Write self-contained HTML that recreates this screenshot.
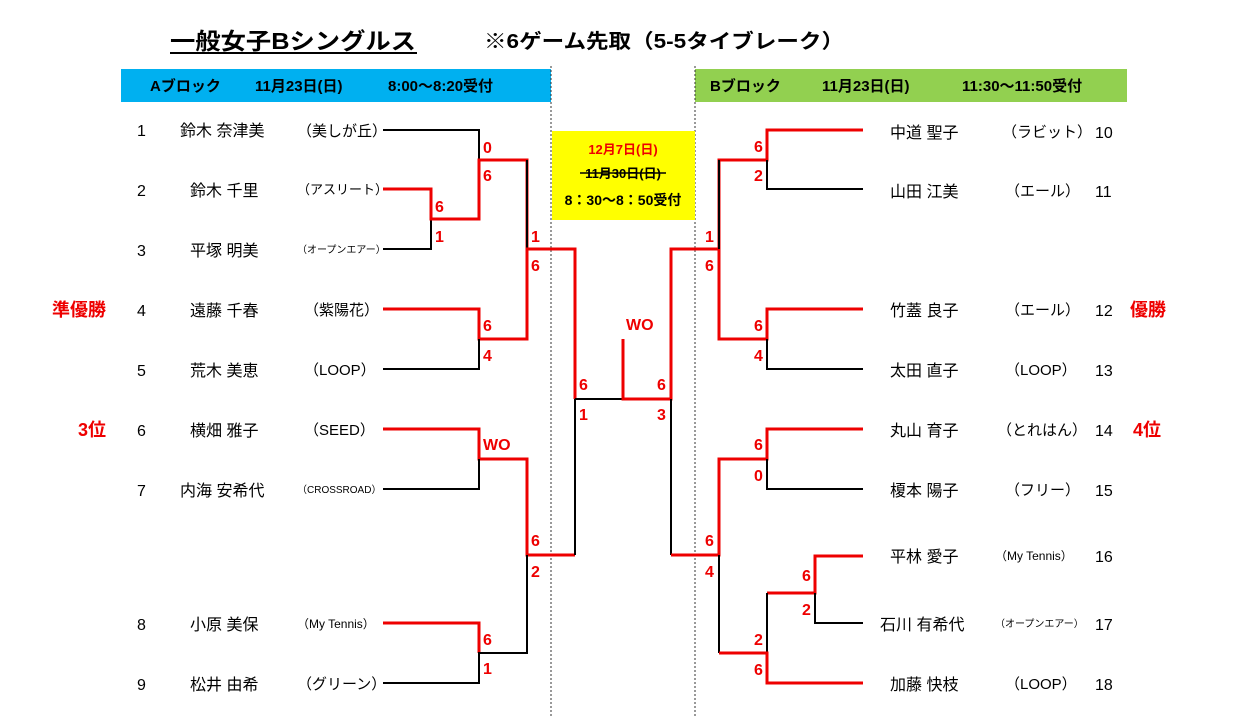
<!DOCTYPE html>
<html><head><meta charset="utf-8"><style>
body{margin:0;background:#fff;}
svg{display:block;font-family:"Liberation Sans","Noto Sans CJK JP",sans-serif;}
text{white-space:pre;}
.n{font-size:16px;fill:#000}
.c{font-size:15px;fill:#000}
.cs{font-size:10px;fill:#000}
.s{font-size:16px;font-weight:bold;fill:#e00}
.r{stroke:#e00;stroke-width:3;fill:none}
.k{stroke:#000;stroke-width:2;fill:none}
</style></head><body>
<svg width="1238" height="728" viewBox="0 0 1238 728">
<text x="170" y="49" font-size="23" font-weight="bold" textLength="246" lengthAdjust="spacingAndGlyphs">一般女子Bシングルス</text>
<line x1="170" y1="53" x2="417" y2="53" stroke="#000" stroke-width="2"/>
<text x="484" y="48" font-size="20" font-weight="bold" textLength="360" lengthAdjust="spacingAndGlyphs">※6ゲーム先取（5-5タイブレーク）</text>
<rect x="121" y="69" width="430" height="33" fill="#00B0F0"/>
<text x="150" y="91" font-size="15" font-weight="bold">Aブロック</text>
<text x="255" y="91" font-size="15" font-weight="bold">11月23日(日)</text>
<text x="388" y="91" font-size="15" font-weight="bold">8:00～8:20受付</text>
<rect x="695" y="69" width="432" height="33" fill="#92D050"/>
<text x="710" y="91" font-size="15" font-weight="bold">Bブロック</text>
<text x="822" y="91" font-size="15" font-weight="bold">11月23日(日)</text>
<text x="962" y="91" font-size="15" font-weight="bold">11:30～11:50受付</text>
<line x1="551" y1="66" x2="551" y2="716" stroke="#333" stroke-dasharray="2,2"/>
<line x1="695" y1="66" x2="695" y2="716" stroke="#333" stroke-dasharray="2,2"/>
<rect x="552" y="131" width="143" height="89" fill="#FFFF00"/>
<text x="623" y="154" font-size="13" font-weight="bold" fill="#e00" text-anchor="middle">12月7日(日)</text>
<text x="623" y="178" font-size="13" font-weight="bold" text-anchor="middle">11月30日(日)</text>
<line x1="580" y1="173" x2="666" y2="173" stroke="#000" stroke-width="1.5"/>
<text x="623" y="205" font-size="14" font-weight="bold" text-anchor="middle">8：30～8：50受付</text>

<!-- left players -->
<g class="n">
<text x="137" y="136">1</text><text x="137" y="196">2</text><text x="137" y="256">3</text><text x="137" y="316">4</text><text x="137" y="376">5</text><text x="137" y="436">6</text><text x="137" y="496">7</text><text x="137" y="630">8</text><text x="137" y="690">9</text>
<text x="180" y="136">鈴木 奈津美</text><text x="190" y="196">鈴木 千里</text><text x="190" y="256">平塚 明美</text><text x="190" y="316">遠藤 千春</text><text x="190" y="376">荒木 美恵</text><text x="190" y="436">横畑 雅子</text><text x="180" y="496">内海 安希代</text><text x="190" y="630">小原 美保</text><text x="190" y="690">松井 由希</text>
</g>
<g class="c">
<text x="297" y="136">（美しが丘）</text><text x="297" y="194" font-size="13">（アスリート）</text><text x="304" y="435">（SEED）</text><text x="304" y="375">（LOOP）</text><text x="304" y="315">（紫陽花）</text><text x="297" y="689">（グリーン）</text>
</g>
<g class="cs"><text x="297" y="253">（オープンエアー）</text><text x="297" y="493">（CROSSROAD）</text><text x="297" y="628" font-size="12">（My Tennis）</text></g>
<text x="52" y="316" font-size="18" font-weight="bold" fill="#e00">準優勝</text>
<text x="78" y="436" font-size="18" font-weight="bold" fill="#e00">3位</text>

<!-- right players -->
<g class="n">
<text x="890" y="138">中道 聖子</text><text x="890" y="197">山田 江美</text><text x="890" y="316">竹蓋 良子</text><text x="890" y="376">太田 直子</text><text x="890" y="436">丸山 育子</text><text x="890" y="496">榎本 陽子</text><text x="890" y="562">平林 愛子</text><text x="880" y="630">石川 有希代</text><text x="890" y="690">加藤 快枝</text>
<text x="1095" y="138">10</text><text x="1095" y="197">11</text><text x="1095" y="316">12</text><text x="1095" y="376">13</text><text x="1095" y="436">14</text><text x="1095" y="496">15</text><text x="1095" y="562">16</text><text x="1095" y="630">17</text><text x="1095" y="690">18</text>
</g>
<g class="c">
<text x="1002" y="137">（ラビット）</text><text x="1005" y="196">（エール）</text><text x="1005" y="315">（エール）</text><text x="1005" y="375">（LOOP）</text><text x="997" y="435">（とれはん）</text><text x="1005" y="495">（フリー）</text><text x="1005" y="689">（LOOP）</text>
</g>
<g class="cs"><text x="995" y="560" font-size="12">（My Tennis）</text><text x="995" y="627">（オープンエアー）</text></g>
<text x="1130" y="316" font-size="18" font-weight="bold" fill="#e00">優勝</text>
<text x="1133" y="436" font-size="18" font-weight="bold" fill="#e00">4位</text>

<!-- left bracket -->
<path class="k" d="M383 130H479V160"/>
<path class="k" d="M383 249H431V219"/>
<path class="r" d="M383 189H431V219H479V160H527V249"/>
<path class="k" d="M527 160V249"/>
<path class="r" d="M383 309H479V339H527V249H575V399"/>
<path class="k" d="M383 369H479V339"/>
<path class="r" d="M383 429H479V459H527V555H575"/>
<path class="k" d="M383 489H479V459"/>
<path class="k" d="M575 399V555M575 399H623"/>
<path class="r" d="M383 623H479V653"/>
<path class="k" d="M383 683H479V653H527V555"/>
<path class="r" d="M527 555V459"/>
<!-- final -->
<path class="r" d="M623 339V399H671V249H719"/>
<path class="k" d="M671 399V555"/>
<!-- right bracket -->
<path class="r" d="M863 130H767V160H719V249"/>
<path class="k" d="M863 189H767V160M719 160V249"/>
<path class="r" d="M719 249V339H767V309H863"/>
<path class="k" d="M767 339V369H863"/>
<path class="r" d="M863 429H767V459H719V555H671"/>
<path class="k" d="M767 459V489H863"/>
<path class="r" d="M863 556H815V593H767"/>
<path class="k" d="M815 593V623H863M767 593V653M719 555V653"/>
<path class="r" d="M719 653H767V683H863"/>

<!-- scores -->
<g class="s">
<text x="483" y="153">0</text><text x="483" y="181">6</text>
<text x="435" y="212">6</text><text x="435" y="242">1</text>
<text x="483" y="331">6</text><text x="483" y="361">4</text>
<text x="531" y="242">1</text><text x="531" y="271">6</text>
<text x="483" y="450">WO</text>
<text x="531" y="546">6</text><text x="531" y="577">2</text>
<text x="483" y="645">6</text><text x="483" y="674">1</text>
<text x="579" y="390">6</text><text x="579" y="420">1</text>
<text x="626" y="330">WO</text>
<text x="657" y="390">6</text><text x="657" y="420">3</text>
<text x="705" y="242">1</text><text x="705" y="271">6</text>
<text x="754" y="152">6</text><text x="754" y="181">2</text>
<text x="754" y="331">6</text><text x="754" y="361">4</text>
<text x="754" y="450">6</text><text x="754" y="481">0</text>
<text x="705" y="546">6</text><text x="705" y="577">4</text>
<text x="802" y="581">6</text><text x="802" y="615">2</text>
<text x="754" y="645">2</text><text x="754" y="675">6</text>
</g>
</svg>
</body></html>
